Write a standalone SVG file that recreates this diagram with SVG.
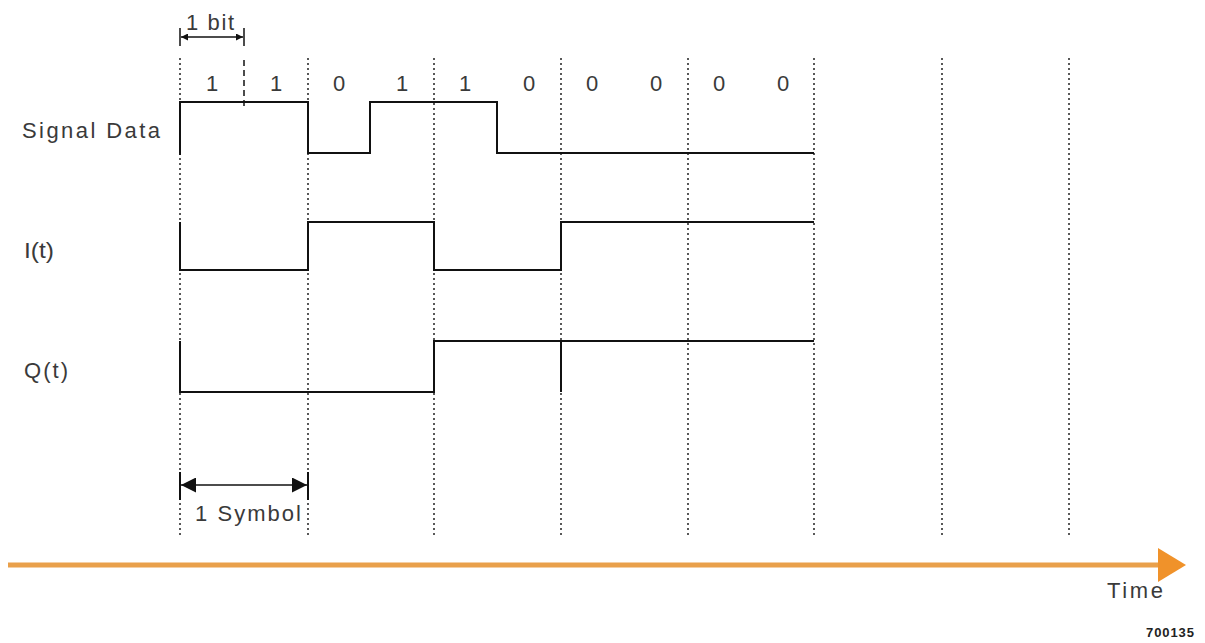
<svg xmlns="http://www.w3.org/2000/svg" width="1205" height="643" viewBox="0 0 1205 643">
<style>
.grid{stroke:#222;stroke-width:1.5;stroke-dasharray:2 3;fill:none}
.sig{stroke:#111;stroke-width:2;fill:none}
.t{font-family:"Liberation Sans",Arial,sans-serif;fill:#3a3a3a;font-size:22px}
.bit{font-family:"Liberation Sans",Arial,sans-serif;fill:#3a3a3a;font-size:22px;text-anchor:middle}
.dim{stroke:#111;stroke-width:1.5;fill:none}
</style>
<defs>
<marker id="ah" viewBox="0 0 10 10" refX="10" refY="5" markerWidth="7" markerHeight="7" orient="auto-start-reverse" markerUnits="userSpaceOnUse"><path d="M0,0L10,5L0,10z" fill="#111"/></marker>
<marker id="ahs" viewBox="0 0 10 10" refX="10" refY="5" markerWidth="16" markerHeight="15" orient="auto-start-reverse" markerUnits="userSpaceOnUse"><path d="M0,0L10,5L0,10z" fill="#111"/></marker>
</defs>
<g id="grid">
<line class="grid" x1="180" y1="58" x2="180" y2="535"/>
<line class="grid" x1="308" y1="58" x2="308" y2="535"/>
<line class="grid" x1="434" y1="58" x2="434" y2="535"/>
<line class="grid" x1="561" y1="58" x2="561" y2="535"/>
<line class="grid" x1="688" y1="58" x2="688" y2="535"/>
<line class="grid" x1="814" y1="58" x2="814" y2="535"/>
<line class="grid" x1="942" y1="58" x2="942" y2="535"/>
<line class="grid" x1="1069" y1="58" x2="1069" y2="535"/>
<line x1="244" y1="60" x2="244" y2="108" stroke="#111" stroke-width="1.5" stroke-dasharray="6 4"/>
</g>
<g id="labels">
<text class="t" x="22" y="138" textLength="138" lengthAdjust="spacing">Signal Data</text>
<text class="t" x="24" y="258" textLength="30" lengthAdjust="spacingAndGlyphs">I(t)</text>
<text class="t" x="24" y="378" textLength="44" lengthAdjust="spacing">Q(t)</text>
<text class="bit" x="212" y="91">1</text>
<text class="bit" x="276" y="91">1</text>
<text class="bit" x="339" y="91">0</text>
<text class="bit" x="402" y="91">1</text>
<text class="bit" x="465" y="91">1</text>
<text class="bit" x="529" y="91">0</text>
<text class="bit" x="592" y="91">0</text>
<text class="bit" x="656" y="91">0</text>
<text class="bit" x="719" y="91">0</text>
<text class="bit" x="783" y="91">0</text>
</g>
<g id="signals">
<path id="signal-data" class="sig" d="M180,155V102H308V153H370V102H497V153H814"/>
<path id="i-t" class="sig" d="M180,222V270H308V222H434V270H561V222H814"/>
<path id="q-t" class="sig" d="M180,341V392H434V341H814M561,341V392"/>
</g>
<g id="bit-dim">
<line class="dim" x1="180" y1="28" x2="180" y2="46"/>
<line class="dim" x1="244" y1="28" x2="244" y2="46"/>
<line class="dim" x1="181" y1="37" x2="243" y2="37" marker-start="url(#ah)" marker-end="url(#ah)"/>
<text class="t" x="186" y="30" font-size="20" textLength="48" lengthAdjust="spacing">1 bit</text>
</g>
<g id="symbol-dim">
<line x1="180" y1="472" x2="180" y2="500" stroke="#111" stroke-width="2"/>
<line x1="308" y1="472" x2="308" y2="500" stroke="#111" stroke-width="2"/>
<line class="dim" x1="181" y1="485" x2="307" y2="485" marker-start="url(#ahs)" marker-end="url(#ahs)"/>
<text class="t" x="195" y="521" font-size="24" textLength="106" lengthAdjust="spacing">1 Symbol</text>
</g>
<g id="time-axis">
<line x1="8" y1="565" x2="1162" y2="565" stroke="#E9A04B" stroke-width="5"/>
<path d="M1158,548L1186,565L1158,582z" fill="#F0922A"/>
<text class="t" x="1107" y="598" font-size="24" textLength="56" lengthAdjust="spacing">Time</text>
<text x="1146" y="637" font-family="Liberation Sans,Arial,sans-serif" font-size="13" font-weight="bold" fill="#222" textLength="48" lengthAdjust="spacing">700135</text>
</g>
</svg>
